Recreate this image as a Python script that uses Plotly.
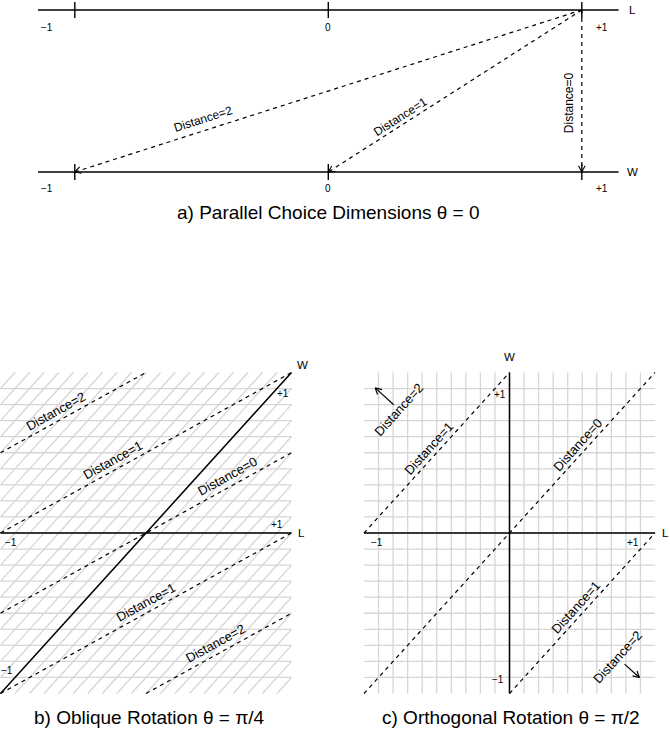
import math
import plotly.graph_objects as go

FIG_W, FIG_H = 670, 729
FONT = "Liberation Sans, Arial, Helvetica, sans-serif"

# ---------------- data ----------------
tick_values = [-1, 0, 1]
tick_labels = ["\u22121", "0", "+1"]
axis_names = ["L", "W"]

# a) parallel choice dimensions: ideal point on L at +1, choices on W
a_ideal_L = 1
a_choice_W = [-1, 0, 1]
a_distance = [2, 1, 0]

# b) oblique rotation: iso-distance lines  y = slope*x + intercept
b_slope = 0.5
b_intercept = [1.0, 0.5, 0.0, -0.5, -1.0]
b_x_from = [-1, -1, -1, -1, 0]
b_x_to = [0, 1, 1, 1, 1]
b_distance = [2, 1, 0, 1, 2]

# c) orthogonal rotation: iso-distance lines  y = slope*x + intercept
c_slope = 1.0
c_intercept = [1.0, 0.0, -1.0]
c_x_from = [-1, -1, 0]
c_x_to = [0, 1, 1]
c_distance = [1, 0, 1]
c_far_distance = [2, 2]

grid_levels = [k / 10 for k in range(-9, 10)]
hatch_levels = [k / 10 for k in range(-19, 20)]

titles = ["a) Parallel Choice Dimensions \u03b8 = 0",
          "b) Oblique Rotation \u03b8 = \u03c0/4",
          "c) Orthogonal Rotation \u03b8 = \u03c0/2"]

# ---------------- placement / style ----------------
PANELS = {
    "a": dict(x0=328.3, sx=253.5, y0=172.0, sy=162.0, dom_x=(0, 670), dom_y=(0, 340), xa="x", ya="y"),
    "b": dict(x0=146.0, sx=145.5, y0=533.0, sy=160.5, dom_x=(0, 335), dom_y=(340, 729), xa="x2", ya="y2"),
    "c": dict(x0=509.5, sx=145.5, y0=533.0, sy=160.5, dom_x=(335, 670), dom_y=(340, 729), xa="x3", ya="y3"),
}
DIST_SIZE_A = 12
DIST_SIZE_BC = 13
TICK_SIZE = 10
NAME_SIZE = 11.5
TITLE_SIZE = 19
GRID_COLOR = "#d6d6d6"
DASH = "4px,4px"
DASH_W = 1.2

fig = go.Figure()
annotations = []


def to_px(p, x, y):
    return p["x0"] + p["sx"] * x, p["y0"] - p["sy"] * y


def to_data(p, px, py):
    return (px - p["x0"]) / p["sx"], (p["y0"] - py) / p["sy"]


def add_line(p, xs, ys, color="black", width=1.4, dash="solid"):
    fig.add_trace(go.Scatter(x=xs, y=ys, mode="lines", xaxis=p["xa"], yaxis=p["ya"],
                             line=dict(color=color, width=width, dash=dash),
                             hoverinfo="skip", showlegend=False))


def add_text(p, text, x, y, size, angle=0, xshift=0, yshift=0):
    annotations.append(dict(text=text, x=x, y=y, xref=p["xa"], yref=p["ya"],
                            showarrow=False, textangle=angle, xshift=xshift, yshift=yshift,
                            font=dict(family=FONT, size=size, color="black")))


def label_on_line(p, text, x1, y1, x2, y2, t, off, size):
    x = x1 + t * (x2 - x1)
    y = y1 + t * (y2 - y1)
    ax, ay = to_px(p, x1, y1)
    bx, by = to_px(p, x2, y2)
    dx, dy = bx - ax, by - ay
    if dx < -1e-9 or (abs(dx) < 1e-9 and dy > 0):
        dx, dy = -dx, -dy
    n = math.hypot(dx, dy)
    ux, uy = dx / n, dy / n
    nx, ny = uy, -ux
    ang = math.degrees(math.atan2(dy, dx))
    add_text(p, text, x, y, size, angle=ang, xshift=nx * off, yshift=-ny * off)
    return ux, uy, nx, ny


def arrow_head(p, tipx, tipy, ux, uy, length=7, half_angle=28, width=1.1):
    # ux, uy: pixel direction of travel toward the tip
    tx, ty = to_px(p, tipx, tipy)
    xs, ys = [], []
    for s in (1, -1):
        a = math.radians(s * half_angle)
        rx = ux * math.cos(a) - uy * math.sin(a)
        ry = ux * math.sin(a) + uy * math.cos(a)
        wx, wy = to_data(p, tx - rx * length, ty - ry * length)
        xs += [wx, tipx, None]
        ys += [wy, tipy, None]
    add_line(p, xs, ys, width=width)


# ================= panel a =================
pa = PANELS["a"]
a_extent = 1.145
tick_half = 8 / pa["sy"]
for level in (1, 0):
    add_line(pa, [-a_extent, a_extent], [level, level], width=1.4)
    xs, ys = [], []
    for v in tick_values:
        xs += [v, v, None]
        ys += [level - tick_half, level + tick_half, None]
    add_line(pa, xs, ys, width=1.4)

label_dx = [-0.11, 0.0, 0.08]
for level, dy_px in ((1, 17), (0, 16)):
    for v, t, dx in zip(tick_values, tick_labels, label_dx):
        add_text(pa, t, v + dx, level - dy_px / pa["sy"], TICK_SIZE)
add_text(pa, axis_names[0], (632 - pa["x0"]) / pa["sx"], 1, NAME_SIZE)
add_text(pa, axis_names[1], (632 - pa["x0"]) / pa["sx"], 0, NAME_SIZE)

a_label_t = [0.74, 0.70, 0.57]
a_label_off = [11, 8, 12]
for w, d, t, off in zip(a_choice_W, a_distance, a_label_t, a_label_off):
    add_line(pa, [a_ideal_L, w], [1, 0], width=DASH_W, dash=DASH)
    label_on_line(pa, f"Distance={d}", a_ideal_L, 1, w, 0, t, off, DIST_SIZE_A)
    sx, sy = to_px(pa, a_ideal_L, 1)
    ex, ey = to_px(pa, w, 0)
    n = math.hypot(ex - sx, ey - sy)
    arrow_head(pa, w, 0, (ex - sx) / n, (ey - sy) / n, length=7)

add_text(pa, titles[0], 0, (172 - 212) / pa["sy"], TITLE_SIZE)

# ================= panel b =================
pb = PANELS["b"]
xs, ys = [], []
for g in grid_levels:
    xs += [-1, 1, None]
    ys += [g, g, None]
for c in hatch_levels:
    x_lo, x_hi = max(-1, -1 - c), min(1, 1 - c)
    if x_hi - x_lo > 1e-9:
        xs += [x_lo, x_hi, None]
        ys += [x_lo + c, x_hi + c, None]
add_line(pb, xs, ys, color=GRID_COLOR, width=1.3)

add_line(pb, [-1, 1], [0, 0], width=1.5)
add_line(pb, [-1, 1], [-1, 1], width=1.5)

b_label_x = [-0.59, -0.20, 0.59, 0.03, 0.51]
for c, x1, x2, d, lx in zip(b_intercept, b_x_from, b_x_to, b_distance, b_label_x):
    y1, y2 = b_slope * x1 + c, b_slope * x2 + c
    add_line(pb, [x1, x2], [y1, y2], width=DASH_W, dash=DASH)
    label_on_line(pb, f"Distance={d}", x1, y1, x2, y2, (lx - x1) / (x2 - x1), 10, DIST_SIZE_BC)

add_text(pb, tick_labels[0], -0.93, -0.062, TICK_SIZE)
add_text(pb, tick_labels[2], 0.90, 0.050, TICK_SIZE)
add_text(pb, tick_labels[2], 0.94, 0.872, TICK_SIZE)
add_text(pb, tick_labels[0], -0.955, -0.854, TICK_SIZE)
add_text(pb, axis_names[0], 1.072, 0, NAME_SIZE)
add_text(pb, axis_names[1], 1.079, 1.047, NAME_SIZE)
add_text(pb, titles[1], (149 - pb["x0"]) / pb["sx"], (533 - 717) / pb["sy"], TITLE_SIZE)

# ================= panel c =================
pc = PANELS["c"]
xs, ys = [], []
for g in grid_levels:
    xs += [-1, 1, None, g, g, None]
    ys += [g, g, None, -1, 1, None]
add_line(pc, xs, ys, color=GRID_COLOR, width=1.3)

add_line(pc, [-1, 1], [0, 0], width=1.5)
add_line(pc, [0, 0], [-1, 1], width=1.5)

c_label_x = [-0.51, 0.51, 0.50]
for c, x1, x2, d, lx in zip(c_intercept, c_x_from, c_x_to, c_distance, c_label_x):
    y1, y2 = c_slope * x1 + c, c_slope * x2 + c
    add_line(pc, [x1, x2], [y1, y2], width=DASH_W, dash=DASH)
    label_on_line(pc, f"Distance={d}", x1, y1, x2, y2, (lx - x1) / (x2 - x1), 9, DIST_SIZE_BC)

# far labels (distance 2) with arrows pointing away
c_far_x = [-0.76, 0.74]
c_far_side = [1, -1]
c_far_tail = [7, 10]
c_far_len = [25, 20]
for d, fx, side, tail, ln in zip(c_far_distance, c_far_x, c_far_side, c_far_tail, c_far_len):
    fy = c_slope * fx + (1.53 if side > 0 else -1.515)
    ux, uy, nx, ny = label_on_line(pc, f"Distance={d}", fx - 0.1, fy - 0.1, fx + 0.1, fy + 0.1,
                                   0.5, 0, DIST_SIZE_BC)
    cx, cy = to_px(pc, fx, fy)
    nx, ny = nx * side, ny * side
    t0 = to_data(pc, cx + nx * tail, cy + ny * tail)
    t1 = to_data(pc, cx + nx * (tail + ln), cy + ny * (tail + ln))
    add_line(pc, [t0[0], t1[0]], [t0[1], t1[1]], width=1.2)
    arrow_head(pc, t1[0], t1[1], nx, ny, length=7, width=1.2)

add_text(pc, tick_labels[0], -0.911, -0.062, TICK_SIZE)
add_text(pc, tick_labels[2], 0.849, -0.062, TICK_SIZE)
add_text(pc, tick_labels[2], -0.065, 0.860, TICK_SIZE)
add_text(pc, tick_labels[0], -0.079, -0.910, TICK_SIZE)
add_text(pc, axis_names[0], 1.069, 0, NAME_SIZE)
add_text(pc, axis_names[1], 0, 1.097, NAME_SIZE)
add_text(pc, titles[2], (511 - pc["x0"]) / pc["sx"], (533 - 717) / pc["sy"], TITLE_SIZE)

# ================= layout =================
layout = dict(width=FIG_W, height=FIG_H, autosize=False,
              margin=dict(l=0, r=0, t=0, b=0),
              paper_bgcolor="white", plot_bgcolor="white",
              showlegend=False, annotations=annotations,
              font=dict(family=FONT, color="black"))
for key, p in PANELS.items():
    L, R = p["dom_x"]
    T, B = p["dom_y"]
    xr = [(L - p["x0"]) / p["sx"], (R - p["x0"]) / p["sx"]]
    yr = [(p["y0"] - B) / p["sy"], (p["y0"] - T) / p["sy"]]
    axname = "xaxis" + p["xa"][1:]
    ayname = "yaxis" + p["ya"][1:]
    layout[axname] = dict(domain=[L / FIG_W, R / FIG_W], range=xr, visible=False,
                          fixedrange=True, anchor=p["ya"])
    layout[ayname] = dict(domain=[1 - B / FIG_H, 1 - T / FIG_H], range=yr, visible=False,
                          fixedrange=True, anchor=p["xa"])
fig.update_layout(**layout)

fig.write_html("out.html", config={"displayModeBar": False},
               post_script="document.body.style.margin='0';"
                           "document.body.style.overflow='hidden';")
